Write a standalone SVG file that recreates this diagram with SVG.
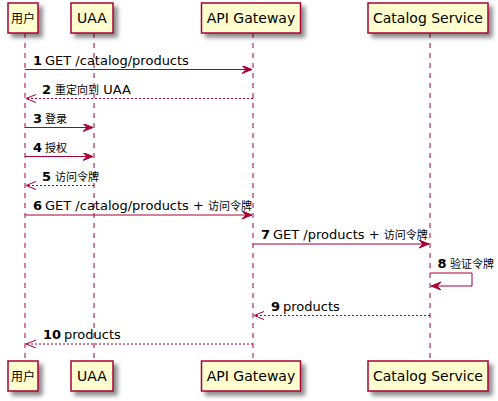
<svg xmlns="http://www.w3.org/2000/svg" width="498" height="401" viewBox="0 0 498 401">
<defs>
<filter id="sh" x="-20%" y="-20%" width="150%" height="160%">
<feGaussianBlur in="SourceAlpha" stdDeviation="2" result="b"/>
<feColorMatrix in="b" type="matrix" values="0 0 0 0 0  0 0 0 0 0  0 0 0 0 0  0 0 0 0.45 0" result="c"/>
<feOffset in="c" dx="4" dy="4" result="o"/>
<feMerge><feMergeNode in="o"/><feMergeNode in="SourceGraphic"/></feMerge>
</filter>
<marker id="fa" markerWidth="12" markerHeight="10" refX="10" refY="4" orient="auto" markerUnits="userSpaceOnUse">
<polygon points="0,0 10,4 0,8 4,4" fill="#A80036" stroke="#A80036" stroke-width="1"/>
</marker>
<marker id="oa" markerWidth="12" markerHeight="10" refX="10" refY="4" orient="auto" markerUnits="userSpaceOnUse">
<polyline points="0,0 10,4 0,8" fill="none" stroke="#A80036" stroke-width="1"/>
</marker>
</defs>
<style>
.box{fill:#FEFECE;stroke:#A80036;stroke-width:1.5}
.life{stroke:#A80036;stroke-width:1;stroke-dasharray:5,5;fill:none}
.pt{font-family:"DejaVu Sans","Noto Sans CJK SC",sans-serif;font-size:14px;fill:#000}
.m{font-family:"DejaVu Sans","Noto Sans CJK SC",sans-serif;font-size:13px;fill:#000}
.n{font-weight:bold}
.cjk{font-family:"Noto Sans CJK SC",sans-serif;font-size:11px}
.cjkp{font-family:"Noto Sans CJK SC",sans-serif;font-size:12px}
.sync{stroke:#A80036;stroke-width:1;fill:none;marker-end:url(#fa)}
.ret{stroke:#A80036;stroke-width:1;fill:none;stroke-dasharray:2,2;marker-end:url(#oa)}
</style>
<g id="lifelines">
<line class="life" x1="25" y1="33" x2="25" y2="361"/>
<line class="life" x1="94" y1="33" x2="94" y2="361"/>
<line class="life" x1="253" y1="33" x2="253" y2="361"/>
<line class="life" x1="430" y1="33" x2="430" y2="361"/>
</g>
<g id="user">
<rect class="box" filter="url(#sh)" x="8" y="3" width="30" height="30"/>
<text class="pt cjkp" x="23" y="23" text-anchor="middle">用户</text>
<rect class="box" filter="url(#sh)" x="8" y="361" width="30" height="30"/>
<text class="pt cjkp" x="23" y="381" text-anchor="middle">用户</text>
</g>
<g id="uaa">
<rect class="box" filter="url(#sh)" x="71" y="3" width="42" height="30"/>
<text class="pt" x="92" y="23" text-anchor="middle">UAA</text>
<rect class="box" filter="url(#sh)" x="71" y="361" width="42" height="30"/>
<text class="pt" x="92" y="381" text-anchor="middle">UAA</text>
</g>
<g id="gateway">
<rect class="box" filter="url(#sh)" x="201.5" y="3" width="99" height="30"/>
<text class="pt" x="251" y="23" text-anchor="middle">API Gateway</text>
<rect class="box" filter="url(#sh)" x="201.5" y="361" width="99" height="30"/>
<text class="pt" x="251" y="381" text-anchor="middle">API Gateway</text>
</g>
<g id="catalog">
<rect class="box" filter="url(#sh)" x="368" y="3" width="120" height="30"/>
<text class="pt" x="428" y="23" text-anchor="middle">Catalog Service</text>
<rect class="box" filter="url(#sh)" x="368" y="361" width="120" height="30"/>
<text class="pt" x="428" y="381" text-anchor="middle">Catalog Service</text>
</g>
<g id="connectors">
<line class="sync" x1="25" y1="69.5" x2="252" y2="69.5"/>
<line class="ret" x1="253" y1="98.5" x2="26" y2="98.5"/>
<line class="sync" x1="25" y1="127.5" x2="93" y2="127.5"/>
<line class="sync" x1="25" y1="156.5" x2="93" y2="156.5"/>
<line class="ret" x1="94" y1="185.5" x2="26" y2="185.5"/>
<line class="sync" x1="25" y1="215" x2="252" y2="215"/>
<line class="sync" x1="253" y1="244" x2="429" y2="244"/>
<polyline class="sync" points="430,273 472,273 472,286 431,286"/>
<line class="ret" x1="430" y1="315.5" x2="254" y2="315.5"/>
<line class="ret" x1="253" y1="344" x2="26" y2="344"/>
</g>
<g id="labels">
<text class="m n" x="33" y="64.5">1</text><text class="m" x="45" y="64.5">GET /catalog/products</text>
<text class="m n" x="42" y="93.5">2</text><text class="m" x="55" y="93.5"><tspan class="cjk">重定向到</tspan> UAA</text>
<text class="m n" x="33" y="122.5">3</text><text class="m cjk" x="45" y="122.5">登录</text>
<text class="m n" x="33" y="151.5">4</text><text class="m cjk" x="45" y="151.5">授权</text>
<text class="m n" x="42" y="180.5">5</text><text class="m cjk" x="55" y="180.5">访问令牌</text>
<text class="m n" x="33" y="210">6</text><text class="m" x="45" y="210">GET /catalog/products + <tspan class="cjk">访问令牌</tspan></text>
<text class="m n" x="261" y="239">7</text><text class="m" x="273" y="239">GET /products + <tspan class="cjk">访问令牌</tspan></text>
<text class="m n" x="437.5" y="268">8</text><text class="m cjk" x="450" y="268">验证令牌</text>
<text class="m n" x="271" y="310.5">9</text><text class="m" x="283" y="310.5">products</text>
<text class="m n" x="43" y="339">10</text><text class="m" x="64" y="339">products</text>
</g>
</svg>
